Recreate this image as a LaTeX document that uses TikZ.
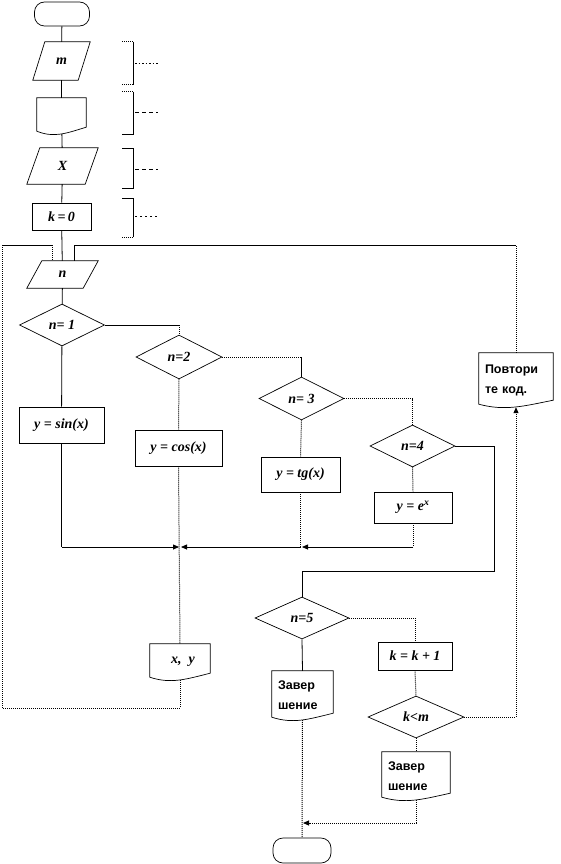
\documentclass[tikz,border=0pt]{standalone}
\usepackage{fontspec}
\setmainfont{Liberation Serif}
\newfontfamily\rusfont{Liberation Sans}
\usetikzlibrary{arrows.meta,shapes.geometric,calc}
\tikzset{
  ln/.style={line width=0.8pt},
  dt/.style={line width=1pt, dash pattern=on 1pt off 1pt},
  outl/.style={line width=0.7pt},
  arr/.style={-{Triangle[length=6pt,width=5pt]}},
  frm/.style={font=\fontsize{14}{15}\selectfont\bfseries\itshape},
  rus/.style={font=\fontsize{12.5}{20}\selectfont\rusfont\bfseries, align=left},
  shp/.style={inner sep=0pt, frm},
  boxn/.style={draw, outl, inner sep=0pt, frm},
  dia/.style={diamond, draw, outl, inner sep=0pt, frm},
  term/.style={draw, outl, rounded corners=10pt, inner sep=0pt},
}
\newcommand\parapath[2]{\draw[outl] ([xshift=#2]#1.north west) -- (#1.north east) -- ([xshift=-#2]#1.south east) -- (#1.south west) -- cycle;}
\newcommand\docpath[1]{\draw[outl] ([yshift=3pt]#1.south west) -- (#1.north west) -- (#1.north east) -- ([yshift=7pt]#1.south east) .. controls ([yshift=1pt]$(#1.south west)!0.6!(#1.south east)$) and ([yshift=-4pt]$(#1.south west)!0.35!(#1.south east)$) .. ([yshift=3pt]#1.south west) -- cycle;}
\begin{document}
\begin{tikzpicture}[x=1pt,y=-1pt]
\useasboundingbox[fill=white] (0,0) rectangle (560,864);

% nodes
\node[term, minimum width=55pt, minimum height=24pt] (start) at (62,14) {};
\node[shp, minimum width=57pt, minimum height=38pt] (m) at (61.5,61) {m};
\parapath{m}{12pt}
\node[shp, minimum width=49pt, minimum height=36pt] (doc1) at (61.5,116) {};
\docpath{doc1}
\node[shp, minimum width=71pt, minimum height=36pt] (X) at (62.5,166) {X};
\parapath{X}{13pt}
\node[boxn, minimum width=59pt, minimum height=27pt] (k0) at (61.5,216.5) {k\,=\,0};
\node[shp, minimum width=71pt, minimum height=27pt] (n) at (62.5,274.5) {n};
\parapath{n}{15pt}
\node[dia, minimum width=85pt, minimum height=42pt] (d1) at (62,325) {n= 1};
\node[dia, minimum width=86pt, minimum height=44pt] (d2) at (179,357) {n=2};
\node[boxn, minimum width=85pt, minimum height=36pt] (sin) at (61.5,425) {y = sin(x)};
\node[boxn, minimum width=87pt, minimum height=36pt] (cos) at (178.5,448) {y = cos(x)};
\node[dia, minimum width=85pt, minimum height=43pt] (d3) at (301.5,398.5) {n= 3};
\node[boxn, minimum width=79pt, minimum height=35pt] (tg) at (300.5,474.5) {y = tg(x)};
\node[dia, minimum width=85pt, minimum height=42pt] (d4) at (412.5,446) {n=4};
\node[boxn, minimum width=78pt, minimum height=31pt] (ex) at (413,507.5) {y = e\textsuperscript{x}};
\node[dia, minimum width=94pt, minimum height=42pt] (d5) at (302,618) {n=5};
\node[shp, rus, minimum width=61pt, minimum height=49pt, text width=49pt] (zav1) at (302.5,695.5) {Завер\\шение};
\docpath{zav1}
\node[boxn, minimum width=74pt, minimum height=28pt] (kk) at (415,656) {k = k + 1};
\node[dia, minimum width=96pt, minimum height=42pt] (d6) at (416,717) {k<m};
\node[shp, rus, minimum width=68pt, minimum height=48pt, text width=56pt] (zav2) at (416,776) {Завер\\шение};
\docpath{zav2}
\node[shp, minimum width=60pt, minimum height=36pt] (xy) at (180,662) {\hspace{6pt}x,\ \ y};
\docpath{xy}
\node[shp, rus, minimum width=74pt, minimum height=54pt, text width=62pt] (pov) at (516,380) {Повтори\\те код.};
\docpath{pov}
\node[term, minimum width=58pt, minimum height=25pt] (end) at (302,850.5) {};

% coordinates
\coordinate (merge) at (180,547);
\coordinate (loopy) at (0,245);
\coordinate (lb) at (2,708);
\coordinate (lt) at (2,245);
\coordinate (nin1) at (74,261);
\coordinate (nin2) at (52,261);
\coordinate (r4) at (494,571);
\coordinate (bot) at (416,823);

% main line
\draw[ln] (start) -- (m);
\draw[ln] (m) -- (doc1);
\draw[ln] (doc1) -- (X);
\draw[ln] (X) -- (k0);
\draw[ln] (k0) -- (n);
\draw[ln] (n) -- (d1);
\draw[ln] (d1) -- (sin);
\draw[ln] (d1.east) -- (d1.east -| d2.north);
\draw[dt] (d1.east -| d2.north) -- (d2.north);
\draw[dt] (d2.south) -- (cos.north);
\draw[dt] (cos.south) -- (xy.north);
\draw[dt] (d2.east) -- (d2.east -| d3.north);
\draw[ln] (d2.east -| d3.north) -- (d3.north);
\draw[dt] (d3.south) -- (tg.north);
\draw[dt] (d3.east) -| (d4.north);
\draw[dt] (d4.south) -- (ex.north);
\draw[dt] (tg.south) -- (tg.south |- merge);
\draw[dt] (ex.south) -- (ex.south |- merge);
\draw[ln] (sin.south) -- (sin.south |- merge);
\draw[ln,arr] (sin.south |- merge) -- ([xshift=-1pt]merge);
\draw[ln,arr] (tg.south |- merge) -- ([xshift=1pt]merge);
\draw[ln,arr] (ex.south |- merge) -- ([xshift=1.5pt]tg.south |- merge);
\draw[ln] (d4.east) -| (r4) -| (d5.north);
\draw[ln] (d5.south) -- (zav1.north);
\draw[dt] (d5.east) -| (kk.north);
\draw[dt] (kk.south) -- (d6.north);
\draw[dt] (d6.south) -- (zav2.north);
\draw[dt,arr] (d6.east) -| (pov.south);
\draw[dt] (zav1.south) -- (end.north);
\draw[dt,arr] (zav2.south) |- ([xshift=1pt]end.north |- bot);
% return loops
\draw[dt] (pov.north) -- (pov.north |- loopy);
\draw[ln] (pov.north |- loopy) -| (nin1);
\draw[dt] (xy.south) -- (xy.south |- lb) -- (lb) -- (lt);
\draw[ln] (lt) -- (lt -| nin2);
\draw[dt] (lt -| nin2) -- (nin2);

% brackets
\draw[dt] (122,42) -- (133,42);
\draw[ln] (133,42) -- (133,85);
\draw[dt] (133,85) -- (122,85);
\draw[line width=0.8pt, dash pattern=on 1.5pt off 2pt] (135,63) -- (158,63);
\draw[dt] (122,92) -- (133,92);
\draw[ln] (133,92) -- (133,134) -- (122,134);
\draw[line width=0.8pt, dash pattern=on 4pt off 3pt] (135,112) -- (158,112);
\draw[ln] (122,148) -- (133,148) -- (133,188) -- (122,188);
\draw[line width=0.8pt, dash pattern=on 4pt off 3pt] (135,169) -- (158,169);
\draw[ln] (122,198) -- (133,198) -- (133,237);
\draw[dt] (133,237) -- (122,237);
\draw[line width=0.8pt, dash pattern=on 2pt off 3pt] (135,216) -- (158,216);
\end{tikzpicture}
\end{document}
